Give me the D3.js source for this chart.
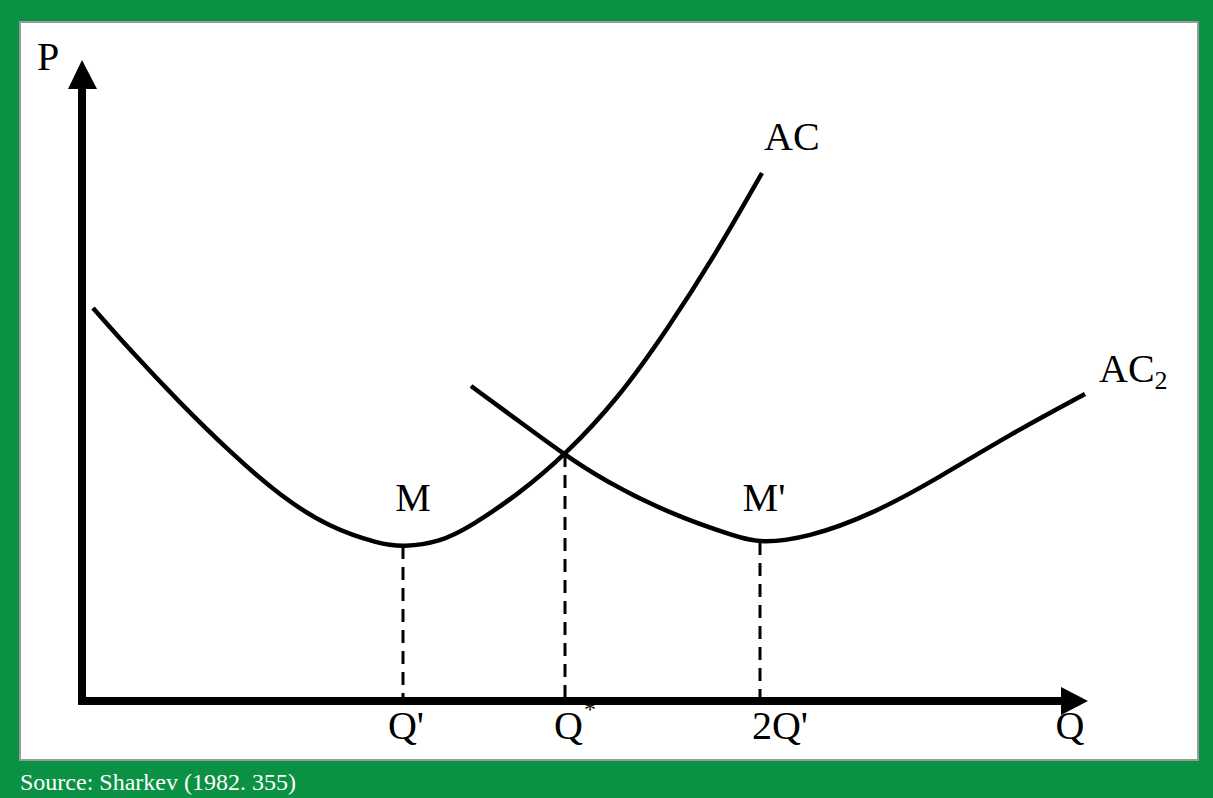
<!DOCTYPE html>
<html>
<head>
<meta charset="utf-8">
<script src="https://cdn.jsdelivr.net/npm/d3@7"></script>
<style>
  html, body { margin: 0; padding: 0; background: #0a9143; }
  svg { display: block; }
  text { font-family: "Liberation Serif", "Times New Roman", serif; }
</style>
</head>
<body>
<svg></svg>
<script>
// average cost curve AC  (q, p)
const acPoints = [
  [9, 393], [46, 351], [96, 298], [146, 249], [196, 205], [246, 173], [296, 157],
  [319, 154], [356, 159], [386, 174], [436, 208], [481, 246], [533, 301],
  [583, 371], [633, 449], [678, 528]
];
// second average cost curve AC2
const ac2Points = [
  [387, 315], [436, 279], [481, 246], [519, 221], [586, 187], [653, 164],
  [676, 158], [723, 163], [789, 187], [856, 224], [923, 265], [1001, 307]
];
// dashed drop lines
const dropQ = [319, 481, 676];
const dropP = [155, 247, 159];
const dropLabels = ["Q'", "Q", "2Q'"];
const dropSup = ["", "*", ""];
// minimum point labels
const pointLabels = ["M", "M'"];
const pointQ = [319, 676];

const W = 1213, H = 798;
const svg = d3.select("svg").attr("width", W).attr("height", H);

// scales: chart units are roughly pixels from the origin
const x = d3.scaleLinear().domain([0, 1000]).range([84, 1084]);
const y = d3.scaleLinear().domain([0, 640]).range([701, 61]);

// small nudges so labels sit like the original
const labelShift = { "Q'": 3, "Q": 10, "2Q'": 20, "M": 10, "M'": 4 };

// white panel with grey edge
svg.append("rect")
  .attr("x", 20).attr("y", 22)
  .attr("width", 1178).attr("height", 738)
  .attr("fill", "#fff")
  .attr("stroke", "#9a9a9a")
  .attr("stroke-width", 2);

// source line
svg.append("text")
  .attr("x", 20).attr("y", 790)
  .attr("fill", "#fff")
  .style("font-size", "24px")
  .text("Source: Sharkev (1982. 355)");

// axes
svg.append("path")
  .attr("d", `M${x(0) - 4},${y(0)} H${x(980)}`)
  .attr("stroke", "#000").attr("stroke-width", 8).attr("fill", "none");
svg.append("path")
  .attr("d", `M${x(0) - 2},${y(0) + 4} V${y(615)}`)
  .attr("stroke", "#000").attr("stroke-width", 8).attr("fill", "none");
// arrow heads
svg.append("path")
  .attr("d", `M${x(1004)},${y(0)} L${x(977)},${y(14)} L${x(977)},${y(-14)} Z`)
  .attr("fill", "#000");
svg.append("path")
  .attr("d", `M${x(0) - 2},${y(641)} L${x(0) - 16},${y(612)} L${x(0) + 13},${y(612)} Z`)
  .attr("fill", "#000");

// axis labels
svg.append("text").attr("x", 37).attr("y", 70)
  .style("font-size", "40px").text("P");
svg.append("text").attr("x", x(1000) - 14).attr("y", 739)
  .attr("text-anchor", "middle")
  .style("font-size", "40px").text("Q");

// dashed drop lines
svg.selectAll("line.drop")
  .data(dropQ)
  .enter()
  .append("line")
  .attr("class", "drop")
  .attr("x1", (d) => x(d)).attr("x2", (d) => x(d))
  .attr("y1", (d, i) => y(dropP[i])).attr("y2", y(0))
  .attr("stroke", "#000")
  .attr("stroke-width", 3)
  .attr("stroke-dasharray", "13,8");

// drop labels
const dl = svg.selectAll("text.drop")
  .data(dropQ)
  .enter()
  .append("text")
  .attr("class", "drop")
  .attr("x", (d, i) => x(d) + labelShift[dropLabels[i]])
  .attr("y", 739)
  .attr("text-anchor", "middle")
  .style("font-size", "40px")
  .text((d, i) => dropLabels[i]);
dl.filter((d, i) => dropSup[i] !== "")
  .append("tspan")
  .attr("dy", -22)
  .attr("dx", 1)
  .style("font-size", "24px")
  .text("*");

// curves (b-spline through the read points to keep them smooth)
const line = d3.line()
  .x((d) => x(d[0]))
  .y((d) => y(d[1]))
  .curve(d3.curveBasis);

svg.append("path").datum(acPoints)
  .attr("d", line)
  .attr("fill", "none").attr("stroke", "#000").attr("stroke-width", 4.5);
svg.append("path").datum(ac2Points)
  .attr("d", line)
  .attr("fill", "none").attr("stroke", "#000").attr("stroke-width", 4.5);

// curve labels
svg.append("text").attr("x", 764).attr("y", 150)
  .style("font-size", "40px").text("AC");
const ac2 = svg.append("text").attr("x", 1099).attr("y", 382)
  .style("font-size", "40px").text("AC");
ac2.append("tspan").attr("dy", 7).style("font-size", "26px").text("2");

// minimum point labels
svg.selectAll("text.pt")
  .data(pointQ)
  .enter()
  .append("text")
  .attr("class", "pt")
  .attr("x", (d, i) => x(d) + labelShift[pointLabels[i]])
  .attr("y", 511)
  .attr("text-anchor", "middle")
  .style("font-size", "40px")
  .text((d, i) => pointLabels[i]);
</script>
</body>
</html>
